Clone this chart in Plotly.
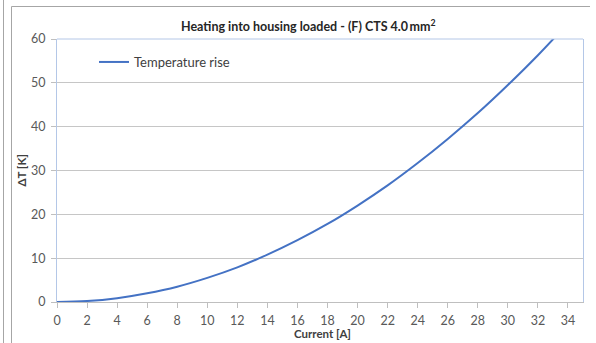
import plotly.graph_objects as go

current_a = [0, 2, 4, 6, 8, 10, 12, 14, 16, 18, 20, 22, 24, 26, 28, 30, 32, 34]
temp_rise_k = [0, 0.22, 0.88, 2.0, 3.5, 5.5, 7.9, 10.8, 14.1, 17.8, 22.0, 26.6, 31.7, 37.2, 43.1, 49.5, 56.3, 63.6]
x_ticks = list(range(0, 35, 2))
y_ticks = [0, 10, 20, 30, 40, 50, 60]

title_text = "Heating into housing loaded - (F) CTS 4.0\u2009mm<sup>2</sup>"
series_name = "Temperature rise"

W, H = 596, 343
L, R, T, B = 57, 13, 39, 41
pw, ph = W - L - R, H - T - B

def px_x(x):
    return (x - L) / pw

def px_y(y):
    return (H - B - y) / ph

FONT = "Lato"
BLUE_EDGE = "#b4c7e7"
GRID = "#c6c6c6"
FRAME = "#a6a6a6"

fig = go.Figure()
fig.add_trace(go.Scatter(
    x=current_a, y=temp_rise_k, mode="lines", name=series_name,
    line=dict(color="#4472c4", width=2, shape="spline"),
))

fig.update_layout(
    width=W, height=H,
    margin=dict(l=L, r=R, t=T, b=B, autoexpand=False),
    paper_bgcolor="white", plot_bgcolor="white",
    font=dict(family=FONT, size=12, color="#595959"),
    showlegend=True,
    legend=dict(x=px_x(94), y=px_y(62), xanchor="left", yanchor="middle",
                bgcolor="rgba(0,0,0,0)", font=dict(size=13, color="#404040"),
                itemwidth=30),
    xaxis=dict(range=[0, 35], tickvals=x_ticks, showgrid=False, zeroline=False,
               showline=True, linecolor="#bfbfbf", linewidth=1,
               ticks="outside", ticklen=5, tickcolor="#bfbfbf",
               ticklabelstandoff=2,
               tickfont=dict(size=12.5, color="#595959")),
    yaxis=dict(range=[0, 60], tickvals=y_ticks, showgrid=True, gridcolor=GRID,
               gridwidth=1, zeroline=False, showline=True, mirror=True,
               linecolor=BLUE_EDGE, linewidth=1, ticks="outside", ticklen=5,
               tickcolor="#bfbfbf", ticklabelstandoff=3,
               tickfont=dict(size=12.5, color="#595959")),
    annotations=[
        dict(text="<b>" + title_text + "</b>", xref="paper", yref="paper",
             x=px_x(308), y=px_y(26), xanchor="center", yanchor="middle",
             showarrow=False, font=dict(size=12.5, color="#262626", family=FONT)),
        dict(text="<b>Current [A]</b>", xref="paper", yref="paper",
             x=px_x(322), y=px_y(333), xanchor="center", yanchor="middle",
             showarrow=False, font=dict(size=11.5, color="#404040", family=FONT)),
        dict(text="<b>\u0394T [K]</b>", xref="paper", yref="paper",
             x=px_x(21), y=0.5, xanchor="center", yanchor="middle",
             textangle=-90, showarrow=False,
             font=dict(size=11.5, color="#404040", family=FONT)),
    ],
    shapes=[
        dict(type="line", xref="paper", yref="paper", x0=0, x1=1, y0=1, y1=1,
             line=dict(color=BLUE_EDGE, width=1)),
        dict(type="line", xref="paper", yref="paper", x0=px_x(3.5), x1=px_x(3.5),
             y0=px_y(0), y1=px_y(H), line=dict(color=FRAME, width=1)),
        dict(type="line", xref="paper", yref="paper", x0=px_x(11.5), x1=px_x(11.5),
             y0=px_y(6.5), y1=px_y(H), line=dict(color=FRAME, width=1)),
        dict(type="line", xref="paper", yref="paper", x0=px_x(11.5), x1=px_x(590),
             y0=px_y(6.5), y1=px_y(6.5), line=dict(color=FRAME, width=1)),
    ],
)

fig.write_html("out.html")
